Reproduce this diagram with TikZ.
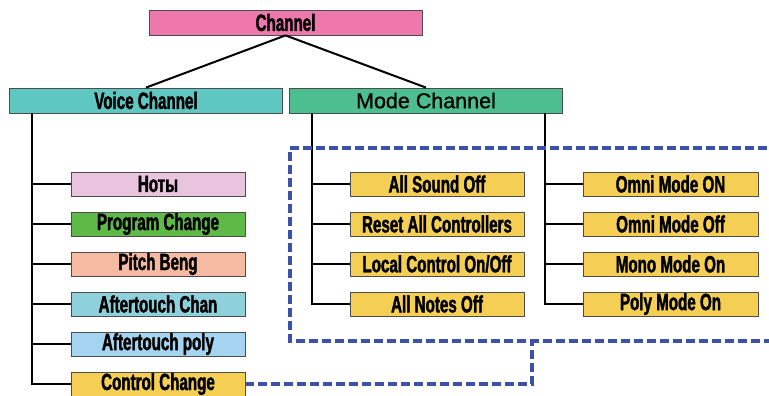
\documentclass[tikz,border=0pt]{standalone}
\usepackage{fontspec}
\newfontfamily\cond{Liberation Sans}[FakeStretch=0.645,FakeBold=1.6]
\newfontfamily\plain{Liberation Sans}[FakeBold=0.8]
\definecolor{cpink}{HTML}{EE78AC}
\definecolor{cteal}{HTML}{5FC7C1}
\definecolor{cgreen}{HTML}{4DBE8F}
\definecolor{clilac}{HTML}{E9C4DF}
\definecolor{cprog}{HTML}{5EB947}
\definecolor{csalmon}{HTML}{F6B9A1}
\definecolor{caqua}{HTML}{8ED1DD}
\definecolor{csky}{HTML}{A4D4EF}
\definecolor{cyellow}{HTML}{F4CF53}
\definecolor{cdash}{HTML}{3B52A9}
\begin{document}
\begin{tikzpicture}[x=1pt,y=-1pt,
  box/.style={draw=black!70,line width=0.8pt,rectangle,inner sep=0pt,font=\cond\bfseries\fontsize{23.5}{23.5}\selectfont,text=black},
  wide/.style={box,minimum width=273pt,minimum height=25pt},
  kid/.style={box,minimum width=174pt,minimum height=24pt},
  link/.style={draw=black,line width=2pt},
  blue/.style={draw=cdash,line width=3.6pt,dash pattern=on 9pt off 4pt}]
\useasboundingbox (0,0) rectangle (769,396);
\clip (0,0) rectangle (769,396);
\node[wide,fill=cpink] (ch) at (285.5,22.5) {Channel};
\node[wide,fill=cteal] (vc) at (146,100.5) {Voice Channel};
\node[wide,fill=cgreen,font=\plain\fontsize{21.5}{21.5}\selectfont] (mc) at (426,100.5) {Mode Channel};
\draw[link] (ch.south) -- (vc.north);
\draw[link] (ch.south) -- (mc.north);
% voice children
\node[kid,fill=clilac] (v1) at (158,184) {Ноты};
\node[kid,fill=cprog] (v2) at (158,224) {Program Change};
\node[kid,fill=csalmon] (v3) at (158,264) {Pitch Beng};
\node[kid,fill=caqua] (v4) at (158,304) {Aftertouch Chan};
\node[kid,fill=csky] (v5) at (158,344) {Aftertouch poly};
\node[kid,fill=cyellow] (v6) at (158,384) {Control Change};
\coordinate (vt) at (32,113);
\foreach \n in {v1,v2,v3,v4,v5,v6} \draw[link] (vt) |- (\n.west);
% mode children
\node[kid,fill=cyellow] (m1) at (437,184) {All Sound Off};
\node[kid,fill=cyellow] (m2) at (437,224) {Reset All Controllers};
\node[kid,fill=cyellow] (m3) at (437,264) {Local Control On/Off};
\node[kid,fill=cyellow] (m4) at (437,304) {All Notes Off};
\node[kid,fill=cyellow,minimum width=175pt] (r1) at (670.5,184) {Omni Mode ON};
\node[kid,fill=cyellow,minimum width=175pt] (r2) at (670.5,224) {Omni Mode Off};
\node[kid,fill=cyellow,minimum width=175pt] (r3) at (670.5,264) {Mono Mode On};
\node[kid,fill=cyellow,minimum width=175pt] (r4) at (670.5,304) {Poly Mode On};
\coordinate (mt1) at (312,113);
\coordinate (mt2) at (545,113);
\foreach \n in {m1,m2,m3,m4} \draw[link] (mt1) |- (\n.west);
\foreach \n in {r1,r2,r3,r4} \draw[link] (mt2) |- (\n.west);
% dashed group
\coordinate (dtl) at (290,148);
\coordinate (dbl) at (290,341);
\coordinate (dtr) at (780,148);
\coordinate (dbr) at (780,341);
\coordinate (dj) at (532,341);
\draw[blue] (dtr) -- (dtl) -- (dbl) -- (dbr);
\draw[blue] (v6.east) -| (dj);
\end{tikzpicture}
\end{document}
